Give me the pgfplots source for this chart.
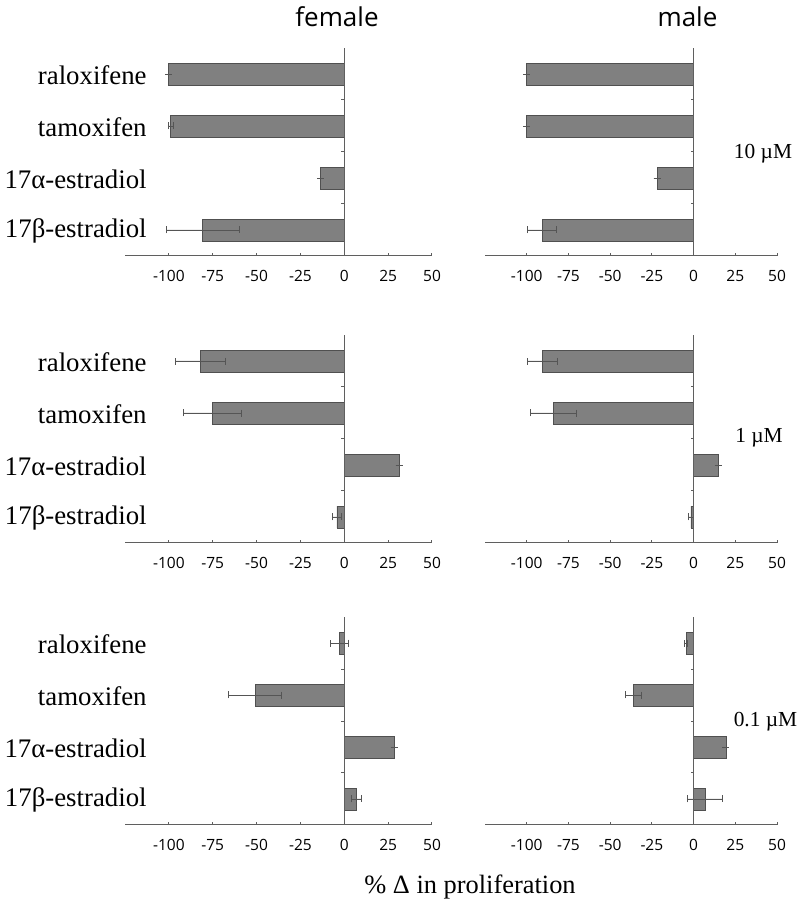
\documentclass[border=0pt]{standalone}
\usepackage{fontspec}
\setmainfont{Liberation Serif}
\newfontfamily\sansf{Open Sans}
\usepackage{pgfplots}
\pgfplotsset{compat=1.18}
\usepackage{pgfplotstable}

\definecolor{barfill}{RGB}{128,128,128}
\definecolor{baredge}{RGB}{80,80,80}
\definecolor{axcol}{RGB}{95,95,95}
\definecolor{errcol}{RGB}{85,85,85}

% y: 4 raloxifene, 3 tamoxifen, 2 17alpha, 1 17beta
\pgfplotstableread{
y v e
4 -100 0
3 -99 1.5
2 -13.4 0
1 -80.8 20.8
}\femA
\pgfplotstableread{
y v e
4 -100 0
3 -100 0
2 -21.9 0
1 -90.6 8.7
}\malA
\pgfplotstableread{
y v e
4 -82.2 14.2
3 -75.3 16.5
2 31.2 0
1 -4.2 2.4
}\femB
\pgfplotstableread{
y v e
4 -90.6 9
3 -84 13.6
2 14.9 0
1 -1.6 1.5
}\malB
\pgfplotstableread{
y v e
4 -2.9 5.2
3 -50.8 15
2 28.4 0
1 6.7 2.9
}\femC
\pgfplotstableread{
y v e
4 -4.4 1
3 -35.9 4.8
2 19.4 0
1 6.9 10.5
}\malC

\pgfplotsset{
  panel/.style={
    scale only axis, height=104pt,
    ymin=0.5, ymax=4.5, xmin=-125, xmax=50,
    axis x line*=bottom, axis y line*=left,
    x axis line style={-, draw=axcol, line width=0.5pt},
    y axis line style={draw=none},
    xtick={-100,-75,-50,-25,0,25,50},
    xticklabels={-100,-75,-50,-25,0,25,50},
    tick align=inside, major tick length=1.3pt,
    xtick style={draw=axcol, line width=0.5pt},
    ytick style={draw=none},
    xticklabel style={font=\sansf\fontsize{7.75}{9}\selectfont, inner sep=0pt, yshift=-6.8pt},
    yticklabel style={font=\fontsize{13.4}{15}\selectfont, inner sep=0pt, xshift=11pt, yshift=-0.5pt},
    clip=false,
  },
  femp/.style={panel, width=153.5pt, ytick={1,2,3,4},
    yticklabels={17β-estradiol,17α-estradiol,tamoxifen,raloxifene}},
  malp/.style={panel, width=146pt, ytick=\empty},
  barsty/.style={xbar, bar width=0.42, fill=barfill, draw=baredge, line width=0.4pt,
    error bars/.cd, x dir=both, x explicit,
    error bar style={draw=errcol, line width=0.45pt},
    error mark=|, error mark options={draw=errcol, line width=0.45pt, mark size=1.75pt}},
}

\newcommand{\zeroline}{%
  \draw[axcol, line width=0.5pt] (axis cs:0,0.5) -- (axis cs:0,4.5);
  \draw[axcol, line width=0.5pt] (axis cs:0,1.5) -- (axis cs:-1.6,1.5);
  \draw[axcol, line width=0.5pt] (axis cs:0,2.5) -- (axis cs:-1.6,2.5);
  \draw[axcol, line width=0.5pt] (axis cs:0,3.5) -- (axis cs:-1.6,3.5);
}

\begin{document}
\begin{tikzpicture}
\useasboundingbox (0,0) rectangle (400pt,450.5pt);

% row 1 (10 uM)
\begin{axis}[femp, at={(62.5pt,322.5pt)}, anchor=south west]
\addplot[barsty] table[x=v, y=y, x error=e] {\femA};
\zeroline
\end{axis}
\begin{axis}[malp, at={(242.5pt,322.5pt)}, anchor=south west]
\addplot[barsty] table[x=v, y=y, x error=e] {\malA};
\zeroline
\end{axis}

% row 2 (1 uM)
\begin{axis}[femp, at={(62.5pt,179pt)}, anchor=south west]
\addplot[barsty] table[x=v, y=y, x error=e] {\femB};
\zeroline
\end{axis}
\begin{axis}[malp, at={(242.5pt,179pt)}, anchor=south west]
\addplot[barsty] table[x=v, y=y, x error=e] {\malB};
\zeroline
\end{axis}

% row 3 (0.1 uM)
\begin{axis}[femp, at={(62.5pt,38pt)}, anchor=south west]
\addplot[barsty] table[x=v, y=y, x error=e] {\femC};
\zeroline
\end{axis}
\begin{axis}[malp, at={(242.5pt,38pt)}, anchor=south west]
\addplot[barsty] table[x=v, y=y, x error=e] {\malC};
\zeroline
\end{axis}

\node[anchor=base, inner sep=0pt, font=\sansf\fontsize{13}{15}\selectfont] at (168.5pt,437pt) {female};
\node[anchor=base, inner sep=0pt, font=\sansf\fontsize{13}{15}\selectfont] at (343.75pt,437pt) {male};
\node[anchor=base, inner sep=0pt, font=\fontsize{10.7}{12}\selectfont] at (381.5pt,371pt) {10 µM};
\node[anchor=base, inner sep=0pt, font=\fontsize{10.7}{12}\selectfont] at (379.5pt,229pt) {1 µM};
\node[anchor=base, inner sep=0pt, font=\fontsize{10.7}{12}\selectfont] at (382.75pt,87pt) {0.1 µM};
\node[anchor=base, inner sep=0pt, font=\fontsize{13.2}{15}\selectfont] at (235pt,4pt) {\% Δ in proliferation};
\end{tikzpicture}
\end{document}
